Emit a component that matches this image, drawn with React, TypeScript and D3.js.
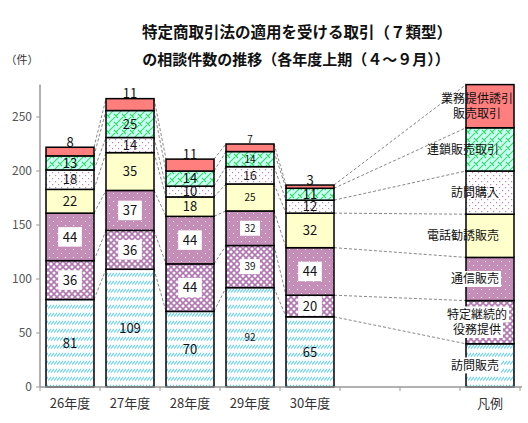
import React from "react";
import * as d3 from "d3";

const years = ["26年度", "27年度", "28年度", "29年度", "30年度"];
const xLabels = ["26年度", "27年度", "28年度", "29年度", "30年度", "", "", "凡例"];
const seriesNames = [
  "訪問販売",
  "特定継続的役務提供",
  "通信販売",
  "電話勧誘販売",
  "訪問購入",
  "連鎖販売取引",
  "業務提供誘引販売取引",
];
const legendLines = [
  ["訪問販売"],
  ["特定継続的", "役務提供"],
  ["通信販売"],
  ["電話勧誘販売"],
  ["訪問購入"],
  ["連鎖販売取引"],
  ["業務提供誘引", "販売取引"],
];
const homon = [81, 109, 70, 92, 65];
const keizoku = [36, 36, 44, 39, 20];
const tsushin = [44, 37, 44, 32, 44];
const denwa = [22, 35, 18, 25, 32];
const kounyu = [18, 14, 10, 16, 12];
const rensa = [13, 25, 14, 14, 11];
const gyomu = [8, 11, 11, 7, 3];
const legendValues = [40, 40, 40, 40, 40, 40, 40];
const yTicks = [0, 50, 100, 150, 200, 250];

const seriesValues = [homon, keizoku, tsushin, denwa, kounyu, rensa, gyomu];
const fills = [
  "url(#pHomon)",
  "url(#pKeizoku)",
  "url(#pTsushin)",
  "#FFFFCC",
  "url(#pKounyu)",
  "url(#pRensa)",
  "#FF7F7F",
];
const boxedSeries = [1, 2];
const boxedLegend = [0, 1, 2];

const W = 528;
const H = 423;
const FONT = "'Noto Sans CJK JP', 'Noto Sans', sans-serif";

export default function App() {
  const x = d3
    .scaleBand<number>()
    .domain(d3.range(xLabels.length))
    .range([40, 520])
    .paddingInner(0.2)
    .paddingOuter(0.1);
  const y = d3.scaleLinear().domain([0, 280]).range([387, 84.6]);
  const bw = x.bandwidth();

  const stacks = years.map((_, yi) => {
    let acc = 0;
    return seriesValues.map((s, si) => {
      const y0 = acc;
      acc += s[yi];
      return { si, y0, y1: acc, v: s[yi] };
    });
  });
  let lacc = 0;
  const legendStack = legendValues.map((v, si) => {
    const y0 = lacc;
    lacc += v;
    return { si, y0, y1: lacc, v };
  });

  const bounds = (st: { y0: number; y1: number }[]) => st.map((d) => d.y1);
  const connectors: { x1: number; y1: number; x2: number; y2: number }[] = [];
  for (let i = 0; i < years.length; i++) {
    const a = bounds(stacks[i]);
    const nextIdx = i < years.length - 1 ? i + 1 : 7;
    const b = i < years.length - 1 ? bounds(stacks[i + 1]) : bounds(legendStack);
    a.forEach((v, k) => {
      connectors.push({
        x1: (x(i) as number) + bw,
        y1: y(v),
        x2: x(nextIdx) as number,
        y2: y(b[k]),
      });
    });
  }

  const labelSize = (yi: number, si: number) => {
    if (yi === 3) return si === 4 ? 12 : 10;
    return 13;
  };

  const estWidth = (t: string, fs: number) => t.length * fs * 0.6;

  return (
    <svg
      width={W}
      height={H}
      style={{ position: "absolute", left: 0, top: 0, background: "#fff" }}
      fontFamily={FONT}
    >
      <defs>
        <pattern id="pHomon" width={3} height={8} patternUnits="userSpaceOnUse">
          <rect width={3} height={8} fill="#fff" />
          <path d="M-0.5,5 L3.5,0.5" stroke="#5FD3F7" strokeWidth={1.2} />
        </pattern>
        <pattern id="pKeizoku" width={6} height={6} patternUnits="userSpaceOnUse">
          <rect width={6} height={6} fill="#fff" />
          <path d="M0,0 L6,6 M6,0 L0,6" stroke="#B277B2" strokeWidth={1.6} />
        </pattern>
        <pattern id="pTsushin" width={8} height={8} patternUnits="userSpaceOnUse">
          <rect width={8} height={8} fill="#C48EB8" />
          <rect x={1} y={1} width={1} height={1} fill="#fff" />
          <rect x={5} y={5} width={1} height={1} fill="#fff" />
        </pattern>
        <pattern id="pKounyu" width={6} height={6} patternUnits="userSpaceOnUse">
          <rect width={6} height={6} fill="#fff" />
          <rect x={1} y={1} width={1.2} height={1.2} fill="#C27FC2" />
          <rect x={4} y={4} width={1.2} height={1.2} fill="#C27FC2" />
        </pattern>
        <pattern id="pRensa" width={8} height={8} patternUnits="userSpaceOnUse">
          <rect width={8} height={8} fill="#CCFFF5" />
          <path
            d="M-2,2 L2,-2 M0,8 L8,0 M6,10 L10,6 M2,2 L6,6"
            stroke="#2FDD60"
            strokeWidth={1.1}
          />
        </pattern>
      </defs>

      {/* title */}
      <text x={297} y={38} textAnchor="middle" fontSize={15.5} fontWeight="bold" fill="#111">
        特定商取引法の適用を受ける取引（７類型）
      </text>
      <text x={296} y={65} textAnchor="middle" fontSize={15} fontWeight="bold" fill="#111">
        の相談件数の推移（各年度上期（４～９月））
      </text>
      <text x={22} y={64} textAnchor="middle" fontSize={11} fill="#333">
        （件）
      </text>

      {/* y axis */}
      <line x1={40} x2={40} y1={y(280)} y2={y(0)} stroke="#999" strokeWidth={1.5} />
      {yTicks.map((t) => (
        <g key={t}>
          <line x1={36} x2={40} y1={y(t)} y2={y(t)} stroke="#999" strokeWidth={1} />
          <text x={32} y={y(t)} dy="0.35em" textAnchor="end" fontSize={12} fill="#555">
            {t}
          </text>
        </g>
      ))}

      {/* connectors */}
      {connectors.map((c, i) => (
        <line
          key={i}
          x1={c.x1}
          y1={c.y1}
          x2={c.x2}
          y2={c.y2}
          stroke="#888"
          strokeWidth={1}
          strokeDasharray="3,2"
        />
      ))}

      {/* bars */}
      {stacks.map((st, yi) => (
        <g key={yi}>
          {st.map((d) => (
            <rect
              key={d.si}
              x={x(yi)}
              y={y(d.y1)}
              width={bw}
              height={y(d.y0) - y(d.y1)}
              fill={fills[d.si]}
              stroke="#000"
              strokeWidth={1.5}
            />
          ))}
        </g>
      ))}

      {/* legend bar */}
      {legendStack.map((d) => (
        <rect
          key={d.si}
          x={x(7)}
          y={y(d.y1)}
          width={bw}
          height={y(d.y0) - y(d.y1)}
          fill={fills[d.si]}
          stroke="#000"
          strokeWidth={1.5}
        />
      ))}

      {/* value labels */}
      {stacks.map((st, yi) =>
        st.map((d) => {
          const fs = labelSize(yi, d.si);
          const cx = (x(yi) as number) + bw / 2;
          const isTop = d.si === seriesValues.length - 1;
          const cy = isTop ? y(d.y1) - 5 : y((d.y0 + d.y1) / 2);
          const t = String(d.v);
          const boxed = boxedSeries.includes(d.si);
          const bwid = estWidth(t, fs) + 8;
          return (
            <g key={`${yi}-${d.si}`}>
              {boxed && (
                <rect x={cx - bwid / 2} y={cy - fs * 0.75} width={bwid} height={fs * 1.5} fill="#fff" />
              )}
              <text x={cx} y={cy} dy="0.36em" textAnchor="middle" fontSize={fs} fill="#111">
                {t}
              </text>
            </g>
          );
        })
      )}

      {/* legend labels */}
      {legendStack.map((d) => {
        const lines = legendLines[d.si];
        const cy = y((d.y0 + d.y1) / 2);
        const fs = 12;
        const boxed = boxedLegend.includes(d.si);
        const multi = lines.length > 1;
        const lh = 15.5;
        return (
          <g key={d.si}>
            {lines.map((ln, k) => {
              const ly = cy + (k - (lines.length - 1) / 2) * lh;
              const w = ln.length * fs;
              const anchorX = multi ? 477 : 499;
              const left = multi ? anchorX - w / 2 : anchorX - w;
              return (
                <g key={k}>
                  {boxed && (
                    <rect x={left - 2} y={ly - 8} width={w + 4} height={16} fill="#fff" />
                  )}
                  <text
                    x={anchorX}
                    y={ly}
                    dy="0.36em"
                    textAnchor={multi ? "middle" : "end"}
                    fontSize={fs}
                    fill="#111"
                  >
                    {ln}
                  </text>
                </g>
              );
            })}
          </g>
        );
      })}

      {/* x axis */}
      <line x1={40} x2={522} y1={y(0)} y2={y(0)} stroke="#999" strokeWidth={1.5} />
      {d3.range(xLabels.length + 1).map((i) => (
        <line
          key={i}
          x1={40 + i * x.step()}
          x2={40 + i * x.step()}
          y1={y(0)}
          y2={y(0) + 4}
          stroke="#999"
          strokeWidth={1}
        />
      ))}
      {xLabels.map((l, i) => (
        <text
          key={i}
          x={(x(i) as number) + bw / 2}
          y={403}
          dy="0.35em"
          textAnchor="middle"
          fontSize={13}
          fill="#333"
        >
          {l}
        </text>
      ))}
    </svg>
  );
}
